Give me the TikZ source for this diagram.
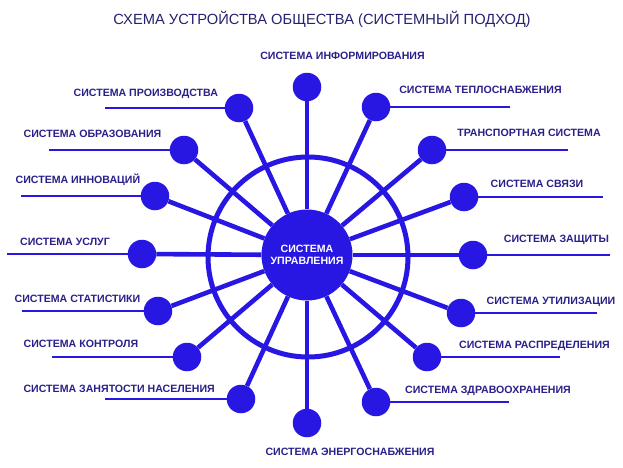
\documentclass[tikz,border=0pt]{standalone}
\usepackage{fontspec}
\setmainfont{Liberation Sans}
\usepackage{tikz}
\usetikzlibrary{positioning}
\definecolor{dotblue}{RGB}{40,22,226}
\definecolor{labelnavy}{RGB}{42,32,138}
\definecolor{titlenavy}{RGB}{38,34,112}
\tikzset{
  sysdot/.style={circle,fill=dotblue,minimum size=28.5pt,inner sep=0pt},
  hubdot/.style={circle,fill=dotblue,minimum size=91pt,inner sep=0pt,align=center,
    text=white,font=\bfseries\fontsize{10.6}{12}\selectfont},
  ringline/.style={circle,draw=dotblue,line width=5pt,minimum size=200pt,inner sep=0pt},
  syslabel/.style={text=labelnavy,font=\bfseries\fontsize{10.6}{12}\selectfont,
    inner sep=0pt,anchor=base},
  titlelabel/.style={text=titlenavy,font=\fontsize{14.7}{17}\selectfont,
    inner sep=0pt,anchor=base},
  spoke/.style={draw=dotblue,line width=4.6pt},
  hline/.style={draw=dotblue,line width=2.8pt},
}

\begin{document}
\begin{tikzpicture}[x=1pt,y=-1pt]
    \useasboundingbox[fill=white] (0,0) rectangle (623,467);
    \node[titlelabel] (title) at (322,24.3) {СХЕМА УСТРОЙСТВА ОБЩЕСТВА (СИСТЕМНЫЙ ПОДХОД)};

    % wheel
    \node[ringline] (ring) at (308,257) {};
    \node[hubdot] (hub) at (307,255) {СИСТЕМА\\УПРАВЛЕНИЯ};

    % systems round the wheel
    \node[sysdot] (info) at (307,87) {};
    \node[sysdot] (prod) at (239,108) {};
    \node[sysdot] (heat) at (376,107) {};
    \node[sysdot] (edu) at (184,150) {};
    \node[sysdot] (transport) at (432,150) {};
    \node[sysdot] (innov) at (155,196) {};
    \node[sysdot] (comm) at (464,197) {};
    \node[sysdot] (services) at (142,254) {};
    \node[sysdot] (defense) at (473,255) {};
    \node[sysdot] (stats) at (158,311) {};
    \node[sysdot] (recycle) at (461,313) {};
    \node[sysdot] (control) at (187,357) {};
    \node[sysdot] (distrib) at (427,357) {};
    \node[sysdot] (employ) at (241,399) {};
    \node[sysdot] (health) at (376,402) {};
    \node[sysdot] (energy) at (307,423) {};

    % free ends of the label lines
    \coordinate (prod-end) at (105,108);
    \coordinate (edu-end) at (49,150);
    \coordinate (innov-end) at (21,196);
    \coordinate (services-end) at (7,254);
    \coordinate (stats-end) at (22,311);
    \coordinate (control-end) at (52,357);
    \coordinate (employ-end) at (105,399);
    \coordinate (heat-end) at (510,107);
    \coordinate (transport-end) at (568,150);
    \coordinate (comm-end) at (603,197);
    \coordinate (defense-end) at (610,255);
    \coordinate (recycle-end) at (597,313);
    \coordinate (distrib-end) at (560,357);
    \coordinate (health-end) at (509,402);

    % labels
    \node[syslabel] (info-text) at (342.5,59.8) {СИСТЕМА ИНФОРМИРОВАНИЯ};
    \node[syslabel] (prod-text) at (145.8,96.8) {СИСТЕМА ПРОИЗВОДСТВА};
    \node[syslabel] (edu-text) at (92.5,137.8) {СИСТЕМА ОБРАЗОВАНИЯ};
    \node[syslabel] (innov-text) at (77.9,183.8) {СИСТЕМА ИННОВАЦИЙ};
    \node[syslabel] (services-text) at (65,245.8) {СИСТЕМА УСЛУГ};
    \node[syslabel] (stats-text) at (77.5,302.8) {СИСТЕМА СТАТИСТИКИ};
    \node[syslabel] (control-text) at (80.9,347.8) {СИСТЕМА КОНТРОЛЯ};
    \node[syslabel] (employ-text) at (119.2,392.8) {СИСТЕМА ЗАНЯТОСТИ НАСЕЛЕНИЯ};
    \node[syslabel] (heat-text) at (480.5,93.8) {СИСТЕМА ТЕПЛОСНАБЖЕНИЯ};
    \node[syslabel] (transport-text) at (529,136.8) {ТРАНСПОРТНАЯ СИСТЕМА};
    \node[syslabel] (comm-text) at (537,187.8) {СИСТЕМА СВЯЗИ};
    \node[syslabel] (defense-text) at (556.5,242.8) {СИСТЕМА ЗАЩИТЫ};
    \node[syslabel] (recycle-text) at (551,304.8) {СИСТЕМА УТИЛИЗАЦИИ};
    \node[syslabel] (distrib-text) at (534.5,348.8) {СИСТЕМА РАСПРЕДЕЛЕНИЯ};
    \node[syslabel] (health-text) at (488,393.8) {СИСТЕМА ЗДРАВООХРАНЕНИЯ};
    \node[syslabel] (energy-text) at (350,455.8) {СИСТЕМА ЭНЕРГОСНАБЖЕНИЯ};

    % spokes
    \draw[spoke] (hub) -- (info);
    \draw[spoke] (hub) -- (prod);
    \draw[spoke] (hub) -- (heat);
    \draw[spoke] (hub) -- (edu);
    \draw[spoke] (hub) -- (transport);
    \draw[spoke] (hub) -- (innov);
    \draw[spoke] (hub) -- (comm);
    \draw[spoke] (hub) -- (services);
    \draw[spoke] (hub) -- (defense);
    \draw[spoke] (hub) -- (stats);
    \draw[spoke] (hub) -- (recycle);
    \draw[spoke] (hub) -- (control);
    \draw[spoke] (hub) -- (distrib);
    \draw[spoke] (hub) -- (employ);
    \draw[spoke] (hub) -- (health);
    \draw[spoke] (hub) -- (energy);

    % label lines
    \draw[hline] (prod) -- (prod-end);
    \draw[hline] (edu) -- (edu-end);
    \draw[hline] (innov) -- (innov-end);
    \draw[hline] (services) -- (services-end);
    \draw[hline] (stats) -- (stats-end);
    \draw[hline] (control) -- (control-end);
    \draw[hline] (employ) -- (employ-end);
    \draw[hline] (heat) -- (heat-end);
    \draw[hline] (transport) -- (transport-end);
    \draw[hline] (comm) -- (comm-end);
    \draw[hline] (defense) -- (defense-end);
    \draw[hline] (recycle) -- (recycle-end);
    \draw[hline] (distrib) -- (distrib-end);
    \draw[hline] (health) -- (health-end);
  \end{tikzpicture}
\end{document}
